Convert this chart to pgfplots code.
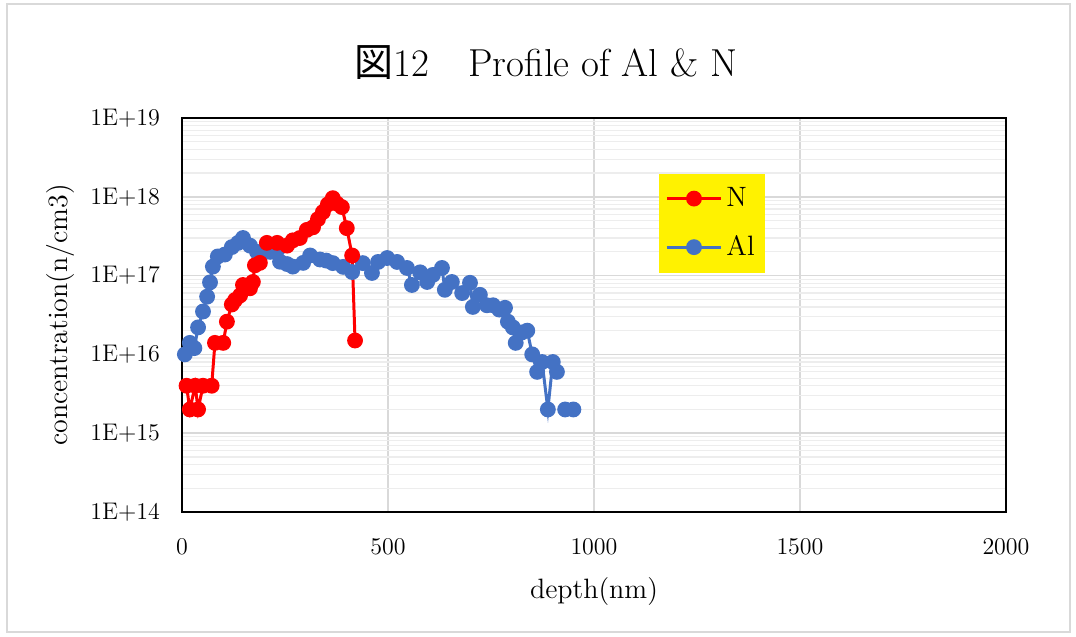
\documentclass[border=0pt]{standalone}
\usepackage{fontspec}
\usepackage{pgfplots}
\pgfplotsset{compat=1.18}
\newfontfamily\cjk{Noto Sans CJK JP}
\definecolor{alblue}{HTML}{4472C4}
\definecolor{nred}{HTML}{FF0000}
\definecolor{majgrid}{HTML}{D9D9D9}
\definecolor{mingrid}{HTML}{EDEDED}
\begin{document}
\begin{tikzpicture}
\useasboundingbox (0,0) rectangle (538pt,318.5pt);
\draw[majgrid, line width=0.8pt] (3.5pt,2.5pt) rectangle (535pt,316.5pt);
\node[font=\fontsize{19.5}{23}\selectfont] at (273pt,287pt) {{\cjk 図}12{\cjk 　}Profile of Al \& N};
\begin{axis}[
  at={(91pt,62.5pt)}, anchor=south west,
  scale only axis, width=412pt, height=197pt,
  xmin=0, xmax=2000, ymin=1e14, ymax=1e19,
  ymode=log,
  xtick={0,500,1000,1500,2000},
  ytick={1e14,1e15,1e16,1e17,1e18,1e19},
  yticklabels={1E+14,1E+15,1E+16,1E+17,1E+18,1E+19},
  /pgf/number format/set thousands separator={},
  tick style={draw=none},
  axis line style={black, line width=0.6pt},
  xmajorgrids, ymajorgrids, yminorgrids,
  major grid style={majgrid, line width=0.8pt},
  minor grid style={mingrid, line width=0.6pt},
  ticklabel style={font=\fontsize{12}{14}\selectfont},
  xticklabel style={yshift=-10pt},
  yticklabel style={xshift=-7.5pt},
  xlabel={depth(nm)},
  ylabel={concentration(n/cm3)},
  label style={font=\fontsize{14}{16}\selectfont},
  xlabel style={at={(axis description cs:0.5,-0.203)}, anchor=center},
  ylabel style={at={(axis description cs:-0.148,0.5)}, anchor=center},
  unbounded coords=jump,
  reverse legend,
  legend style={at={(0.579,0.860)}, anchor=north west, fill=yellow, draw=none,
    font=\fontsize{14}{16}\selectfont, row sep=9pt, inner ysep=5pt, inner xsep=3pt},
  legend cell align=left,
  legend image code/.code={\draw[#1, mark repeat=2, mark phase=2] plot coordinates {(0pt,0pt) (13.5pt,0pt) (27pt,0pt)};},
]
\addplot[alblue, line width=1.5pt, mark=*, mark size=3.2pt, mark options={fill=alblue, draw=alblue}] coordinates {
(7,1.0e16)(19,1.4e16)(30,1.2e16)(39,2.2e16)(51,3.5e16)(61,5.4e16)(68,8.2e16)(75,1.3e17)
(87,1.75e17)(104,1.85e17)(121,2.3e17)(136,2.6e17)(148,3.0e17)(165,2.4e17)(182,2.0e17)
(194,1.9e17)(214,2.0e17)(231,2.1e17)(238,1.5e17)(255,1.4e17)(269,1.3e17)(294,1.45e17)
(311,1.8e17)(335,1.6e17)(350,1.55e17)(366,1.44e17)(391,1.29e17)(413,1.11e17)(439,1.44e17)
(461,1.08e17)(476,1.49e17)(498,1.67e17)(522,1.49e17)(546,1.25e17)(558,7.6e16)(578,1.1e17)
(595,8.3e16)(609,1.02e17)(631,1.25e17)(638,6.6e16)(655,8.3e16)(680,6.0e16)(699,8.1e16)
(706,4e16)(723,5.7e16)(740,4.2e16)(755,4.2e16)(770,3.7e16)(784,3.9e16)(791,2.6e16)
(803,2.2e16)(810,1.4e16)(825,1.9e16)(838,2.0e16)(850,1.0e16)(862,6e15)(874,8e15)
(888,2e15)(900,8e15)(910,6e15)(920,nan)(930,2e15)(950,2e15)
};
\addlegendentry{Al}
\addplot[nred, line width=1.5pt, mark=*, mark size=3.2pt, mark options={fill=nred, draw=nred}] coordinates {
(11,4e15)(19,2e15)(32,4e15)(39,2e15)(51,4e15)(72,4e15)(80,1.4e16)(100,1.4e16)
(109,2.6e16)(121,4.3e16)(129,4.9e16)(141,5.6e16)(148,7.6e16)(165,6.9e16)(172,8.3e16)
(177,1.35e17)(189,1.45e17)(206,2.6e17)(231,2.6e17)(255,2.4e17)(269,2.8e17)(286,3.0e17)
(303,3.8e17)(318,4.1e17)(330,5.2e17)(342,6.4e17)(354,8.0e17)(366,9.6e17)(376,8.2e17)
(388,7.4e17)(400,4.0e17)(413,1.8e17)(420,1.5e16)
};
\addlegendentry{N}
\end{axis}
\end{tikzpicture}
\end{document}
